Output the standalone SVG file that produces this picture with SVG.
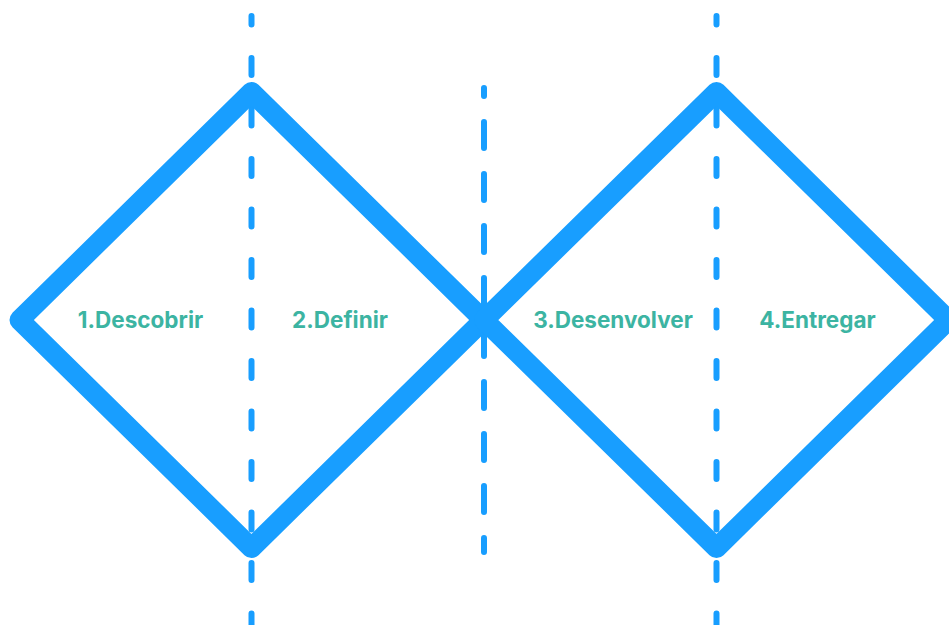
<svg xmlns="http://www.w3.org/2000/svg" width="949" height="625" viewBox="0 0 949 625">
  <style>
    .diamond { fill: none; stroke: #189EFF; stroke-width: 20; stroke-linejoin: round; }
    .guide { stroke: #189EFF; stroke-width: 6; stroke-linecap: round; fill: none; }
    .outer { stroke-dasharray: 17 33.5; stroke-dashoffset: 8.5; }
    .mid { stroke-dasharray: 26 26; stroke-dashoffset: 18; }
    .label { font-family: Inter, "Liberation Sans", sans-serif; font-weight: 700; font-size: 22.5px; fill: #3CB4A2; text-anchor: middle; }
  </style>
  <rect width="949" height="625" fill="#FFFFFF"/>
  <g id="guides">
    <line class="guide outer" x1="251.5" y1="16" x2="251.5" y2="640"/>
    <line class="guide mid" x1="484" y1="88" x2="484" y2="552"/>
    <line class="guide outer" x1="716.5" y1="16" x2="716.5" y2="640"/>
  </g>
  <g id="connectors">
    <polygon id="diamond-left" class="diamond" points="19.5,320 251.5,92 483.5,320 251.5,548"/>
    <polygon id="diamond-right" class="diamond" points="484,320 716.5,92 948.5,320 716.5,548"/>
  </g>
  <g id="node-descobrir"><text class="label" x="140.5" y="328">1.Descobrir</text></g>
  <g id="node-definir"><text class="label" x="340" y="328">2.Definir</text></g>
  <g id="node-desenvolver"><text class="label" x="613" y="328">3.Desenvolver</text></g>
  <g id="node-entregar"><text class="label" x="817.5" y="328">4.Entregar</text></g>
</svg>
